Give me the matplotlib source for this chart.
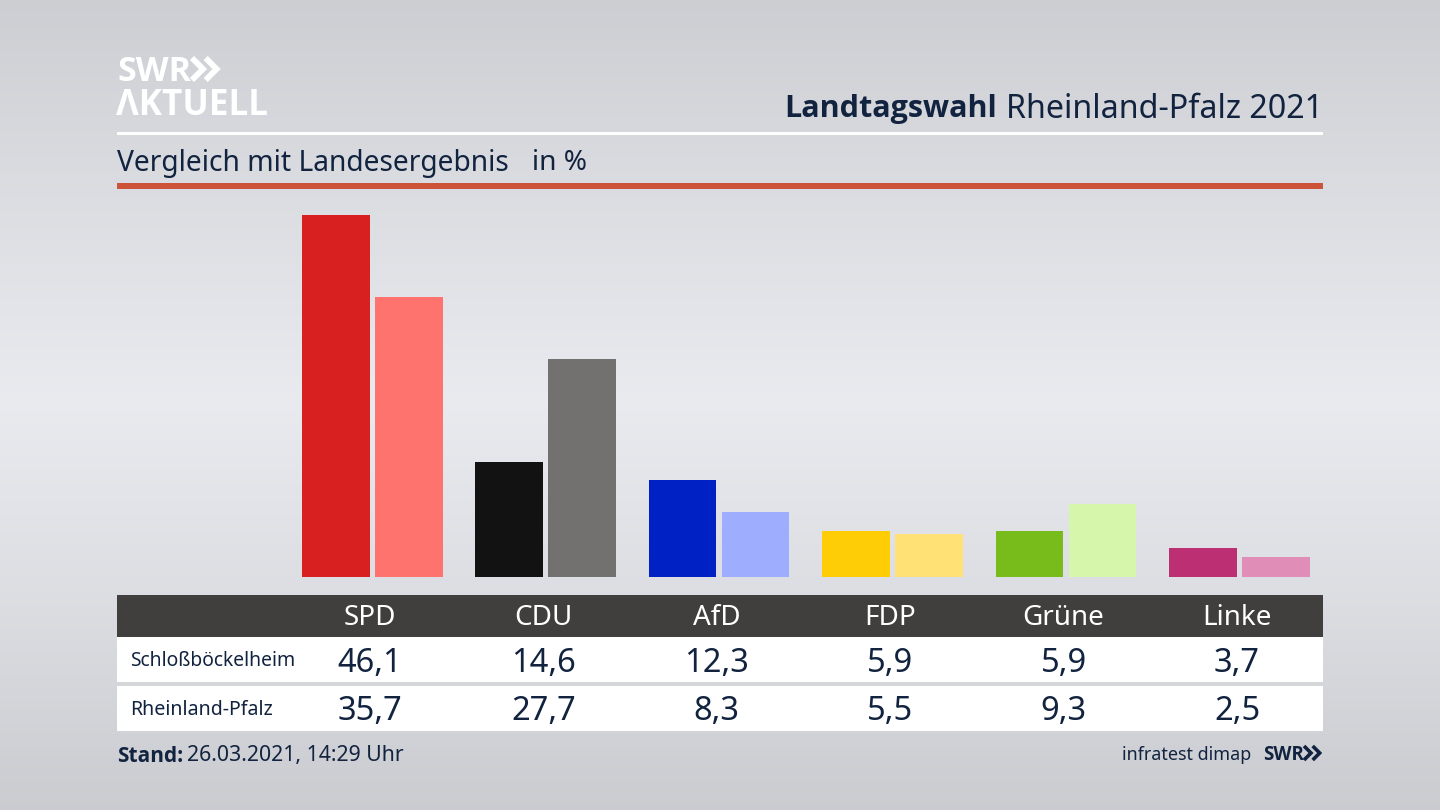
import numpy as np
import matplotlib
matplotlib.use('Agg')
import matplotlib.pyplot as plt
from matplotlib import font_manager
from matplotlib.patches import Rectangle

# Werte aus dem Bild
parties = ['SPD', 'CDU', 'AfD', 'FDP', 'Grüne', 'Linke']
local_values = [46.1, 14.6, 12.3, 5.9, 5.9, 3.7]
state_values = [35.7, 27.7, 8.3, 5.5, 9.3, 2.5]
local_colors = ['#d7201f', '#121212', '#0021c4', '#ffcd05', '#78bc1b', '#bc2f73']
state_colors = ['#ff736e', '#73716f', '#9fadff', '#ffe175', '#d6f7ab', '#e08db8']
local_name = 'Schloßböckelheim'
state_name = 'Rheinland-Pfalz'

NAVY = '#12233f'
plt.rcParams['font.family'] = 'Noto Sans'

# Nicht jede installierte Familie hat einen echten Bold-Schnitt
def bold_family():
    for fam in ['Open Sans', 'Lato', 'Roboto', 'Inter', 'DejaVu Sans']:
        for f in font_manager.fontManager.ttflist:
            if f.name == fam and f.weight in (700, 'bold'):
                return fam
    return 'DejaVu Sans'

BOLD = bold_family()

fig = plt.figure(figsize=(14.4, 8.1), dpi=100)

# Hintergrund und alles Nicht-Daten in Pixelkoordinaten
bg = fig.add_axes([0, 0, 1, 1])
stops_y = [0, 200, 400, 600, 810]
stops_v = [0.800, 0.860, 0.912, 0.860, 0.790]
grad = np.interp(np.arange(810), stops_y, stops_v)
grad = np.stack([grad, grad + 0.008, grad + 0.026], axis=-1)[:, None, :]
bg.imshow(grad.clip(0, 1), extent=[0, 1440, 810, 0], aspect='auto', zorder=0)
bg.set_xlim(0, 1440)
bg.set_ylim(810, 0)
bg.axis('off')

def band(x0, y0, x1, y1, color):
    bg.add_patch(Rectangle((x0, y0), x1 - x0, y1 - y0, color=color, lw=0, zorder=1))

def chevrons(x, y, h, color, lw):
    for dx in (0, h * 0.62):
        bg.plot([x + dx, x + dx + h * 0.5, x + dx], [y, y + h / 2, y + h], color=color,
                lw=lw, solid_joinstyle='miter', solid_capstyle='butt', zorder=3)

# Logo
bg.text(117, 72, 'SWR', color='white', fontsize=24.5, family=BOLD, fontweight='bold', va='center', ha='left', zorder=3)
chevrons(192, 58, 22, 'white', 4.2)
bg.text(116, 106, 'ΛKTUELL', color='white', fontsize=25.2, family=BOLD, fontweight='bold', va='center', ha='left', zorder=3)

# Kopfzeile
bg.text(997, 109, 'Landtagswahl', color=NAVY, fontsize=22, family=BOLD, fontweight='bold', va='center', ha='right', zorder=3)
bg.text(1323, 109, 'Rheinland-Pfalz 2021', color=NAVY, fontsize=23.2, va='center', ha='right', zorder=3)
band(117, 132, 1323, 135, 'white')
bg.text(117, 163, 'Vergleich mit Landesergebnis', color=NAVY, fontsize=20.3, va='center', ha='left', zorder=3)
bg.text(532, 163, 'in %', color=NAVY, fontsize=20.2, va='center', ha='left', zorder=3)
band(117, 183, 1323, 189, '#cc5238')

# Balken
ax = fig.add_axes([117 / 1440, 1 - 577 / 810, (1323 - 117) / 1440, (577 - 189) / 810])
ax.patch.set_alpha(0)
ax.set_xlim((117 - 372.3) / 173.4, (1323 - 372.3) / 173.4)
ax.set_ylim(0, (577 - 189) / 7.855)
ax.axis('off')
x = np.arange(len(parties))
ax.bar(x - 0.2105, local_values, width=0.39, color=local_colors, linewidth=0)
ax.bar(x + 0.2105, state_values, width=0.39, color=state_colors, linewidth=0)

# Tabelle
band(117, 595, 1323, 637, '#403f3d')
band(117, 637, 1323, 682, 'white')
band(117, 686, 1323, 731, 'white')
bg.text(130.5, 661, local_name, color=NAVY, fontsize=13.9, va='center', ha='left', zorder=3)
bg.text(130.5, 710, state_name, color=NAVY, fontsize=14.1, va='center', ha='left', zorder=3)
for i, party in enumerate(parties):
    cx = 370 + i * 173.4
    bg.text(cx, 618, party, color='white', fontsize=20, va='center', ha='center', zorder=3)
    bg.text(cx, 663, f'{local_values[i]:.1f}'.replace('.', ','), color=NAVY, fontsize=23.5, va='center', ha='center', zorder=3)
    bg.text(cx, 712, f'{state_values[i]:.1f}'.replace('.', ','), color=NAVY, fontsize=23.5, va='center', ha='center', zorder=3)

# Fusszeile
bg.text(117, 756, 'Stand:', color=NAVY, fontsize=15, family=BOLD, fontweight='bold', va='center', ha='left', zorder=3)
bg.text(187, 756, '26.03.2021, 14:29 Uhr', color=NAVY, fontsize=15.3, va='center', ha='left', zorder=3)
bg.text(1251, 755, 'infratest dimap', color=NAVY, fontsize=12.9, va='center', ha='right', zorder=3)
bg.text(1263, 755, 'SWR', color=NAVY, fontsize=13.5, family=BOLD, fontweight='bold', va='center', ha='left', zorder=3)
chevrons(1304, 746, 14, NAVY, 2.6)

fig.savefig('out.png', dpi=100)
